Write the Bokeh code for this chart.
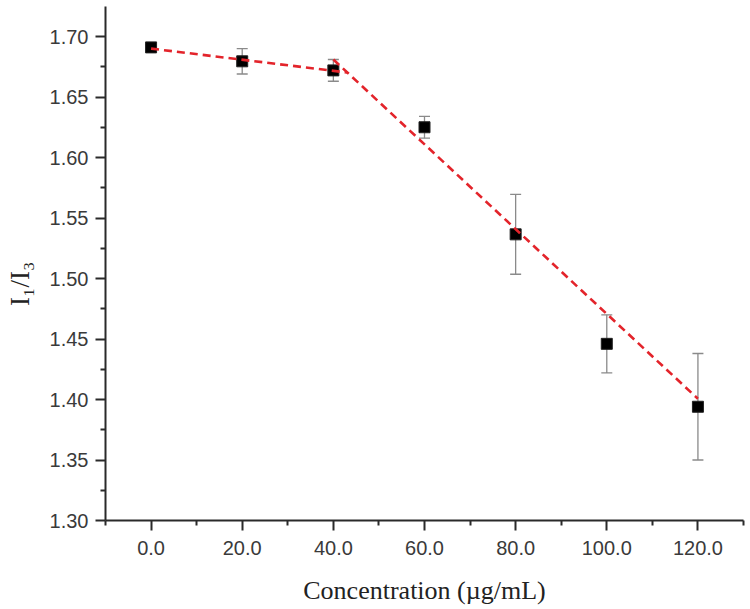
from bokeh.plotting import figure
from bokeh.models import (Range1d, FixedTicker, PrintfTickFormatter, ColumnDataSource,
                          Whisker, TeeHead)
from bokeh.embed import file_html
from bokeh.resources import INLINE

# data
conc = [0, 20, 40, 60, 80, 100, 120]
ratio = [1.691, 1.6795, 1.672, 1.625, 1.5365, 1.446, 1.394]
err = [0.002, 0.0105, 0.009, 0.009, 0.033, 0.024, 0.044]

fit1_x = [0, 43.1]
fit1_y = [1.690, 1.6702]
fit2_x = [40, 120]
fit2_y = [1.681, 1.4006]

x_major = [0, 20, 40, 60, 80, 100, 120]
x_minor = [-10, 10, 30, 50, 70, 90, 110, 130]
y_major = [1.30, 1.35, 1.40, 1.45, 1.50, 1.55, 1.60, 1.65, 1.70]
y_minor = [1.325, 1.375, 1.425, 1.475, 1.525, 1.575, 1.625, 1.675, 1.725]

x_label = "Concentration (\u00b5g/mL)"
y_label = "I\u2081/I\u2083" + "\u00a0" * 6

p = figure(width=750, height=609, output_backend="svg", toolbar_location=None,
           x_range=Range1d(-10, 130), y_range=Range1d(1.30, 1.30 + 514 / 1210),
           min_border_left=105, min_border_right=7, min_border_top=6, min_border_bottom=89)
p.outline_line_color = None
p.xgrid.visible = False
p.ygrid.visible = False
p.background_fill_color = "white"
p.border_fill_color = "white"

src = ColumnDataSource(dict(x=conc, y=ratio,
                            lo=[r - e for r, e in zip(ratio, err)],
                            hi=[r + e for r, e in zip(ratio, err)]))

wh = Whisker(source=src, base="x", upper="hi", lower="lo",
             line_color="#8a8a8a", line_width=1.3,
             upper_head=TeeHead(size=11, line_color="#8a8a8a", line_width=1.3),
             lower_head=TeeHead(size=11, line_color="#8a8a8a", line_width=1.3),
             level="underlay")
p.add_layout(wh)

p.scatter("x", "y", source=src, marker="square", size=11, fill_color="black",
          line_color="#222222", line_width=1)

p.line(fit1_x, fit1_y, line_color="#e3242b", line_width=2.6, line_dash="8 5")
p.line(fit2_x, fit2_y, line_color="#e3242b", line_width=2.6, line_dash="8 5")

for ax in (p.xaxis[0], p.yaxis[0]):
    ax.axis_line_color = "#2a2a2a"
    ax.axis_line_width = 2
    ax.major_tick_line_color = "#2a2a2a"
    ax.minor_tick_line_color = "#2a2a2a"
    ax.major_tick_line_width = 2
    ax.minor_tick_line_width = 2
    ax.major_tick_out = 10
    ax.major_tick_in = 0
    ax.minor_tick_out = 5
    ax.minor_tick_in = 0
    ax.major_label_text_font = "Liberation Sans"
    ax.major_label_text_font_size = "20px"
    ax.major_label_text_color = "#3a3a3a"
    ax.axis_label_text_font = "Liberation Serif"
    ax.axis_label_text_font_style = "normal"
    ax.axis_label_text_color = "#222222"

p.xaxis[0].ticker = FixedTicker(ticks=x_major, minor_ticks=x_minor)
p.yaxis[0].ticker = FixedTicker(ticks=y_major, minor_ticks=y_minor)
p.xaxis[0].formatter = PrintfTickFormatter(format="%.1f")
p.yaxis[0].formatter = PrintfTickFormatter(format="%.2f")
p.xaxis[0].major_label_standoff = 10
p.yaxis[0].major_label_standoff = 7
p.xaxis[0].axis_label = x_label
p.xaxis[0].axis_label_text_font_size = "26px"
p.xaxis[0].axis_label_standoff = 18
p.yaxis[0].axis_label = y_label
p.yaxis[0].axis_label_text_font_size = "27px"
p.yaxis[0].axis_label_standoff = 12

open("out.html", "w").write(file_html(p, INLINE))
